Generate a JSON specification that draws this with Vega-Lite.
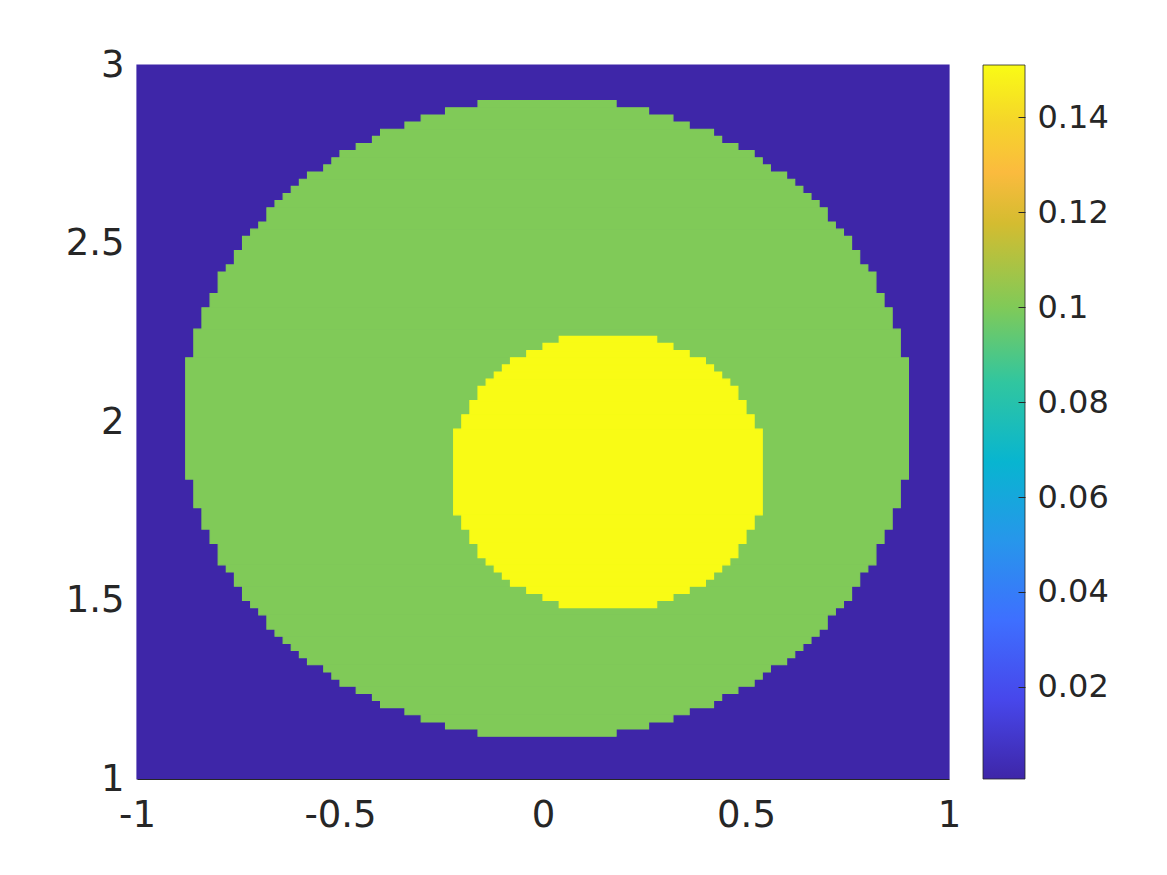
{
  "$schema": "https://vega.github.io/schema/vega-lite/v6.json",
  "autosize": {"type": "pad"},
  "padding": {"left": 65, "top": 46, "right": 5, "bottom": 5},
  "background": "white",
  "config": {
    "view": {"stroke": null},
    "font": "DejaVu Sans",
    "axis": {"labelColor": "#262626", "labelFont": "DejaVu Sans", "grid": false, "title": null}
  },
  "datasets": {
    "cells": [
      {"x0": -1.0, "x1": 1.0, "y0": 1.0, "y1": 3.0, "v": 0.0006},
      {"x0": -0.16, "x1": 0.18, "y0": 2.88, "y1": 2.90, "v": 0.1},
      {"x0": -0.24, "x1": 0.26, "y0": 2.86, "y1": 2.88, "v": 0.1},
      {"x0": -0.30, "x1": 0.32, "y0": 2.84, "y1": 2.86, "v": 0.1},
      {"x0": -0.34, "x1": 0.36, "y0": 2.82, "y1": 2.84, "v": 0.1},
      {"x0": -0.40, "x1": 0.42, "y0": 2.80, "y1": 2.82, "v": 0.1},
      {"x0": -0.42, "x1": 0.44, "y0": 2.78, "y1": 2.80, "v": 0.1},
      {"x0": -0.46, "x1": 0.48, "y0": 2.76, "y1": 2.78, "v": 0.1},
      {"x0": -0.50, "x1": 0.52, "y0": 2.74, "y1": 2.76, "v": 0.1},
      {"x0": -0.52, "x1": 0.54, "y0": 2.72, "y1": 2.74, "v": 0.1},
      {"x0": -0.54, "x1": 0.56, "y0": 2.70, "y1": 2.72, "v": 0.1},
      {"x0": -0.58, "x1": 0.60, "y0": 2.68, "y1": 2.70, "v": 0.1},
      {"x0": -0.60, "x1": 0.62, "y0": 2.66, "y1": 2.68, "v": 0.1},
      {"x0": -0.62, "x1": 0.64, "y0": 2.64, "y1": 2.66, "v": 0.1},
      {"x0": -0.64, "x1": 0.66, "y0": 2.62, "y1": 2.64, "v": 0.1},
      {"x0": -0.66, "x1": 0.68, "y0": 2.60, "y1": 2.62, "v": 0.1},
      {"x0": -0.68, "x1": 0.70, "y0": 2.56, "y1": 2.60, "v": 0.1},
      {"x0": -0.70, "x1": 0.72, "y0": 2.54, "y1": 2.56, "v": 0.1},
      {"x0": -0.72, "x1": 0.74, "y0": 2.52, "y1": 2.54, "v": 0.1},
      {"x0": -0.74, "x1": 0.76, "y0": 2.48, "y1": 2.52, "v": 0.1},
      {"x0": -0.76, "x1": 0.78, "y0": 2.44, "y1": 2.48, "v": 0.1},
      {"x0": -0.78, "x1": 0.80, "y0": 2.42, "y1": 2.44, "v": 0.1},
      {"x0": -0.80, "x1": 0.82, "y0": 2.36, "y1": 2.42, "v": 0.1},
      {"x0": -0.82, "x1": 0.84, "y0": 2.32, "y1": 2.36, "v": 0.1},
      {"x0": -0.84, "x1": 0.86, "y0": 2.26, "y1": 2.32, "v": 0.1},
      {"x0": -0.86, "x1": 0.88, "y0": 2.18, "y1": 2.26, "v": 0.1},
      {"x0": -0.88, "x1": 0.90, "y0": 1.84, "y1": 2.18, "v": 0.1},
      {"x0": -0.86, "x1": 0.88, "y0": 1.76, "y1": 1.84, "v": 0.1},
      {"x0": -0.84, "x1": 0.86, "y0": 1.70, "y1": 1.76, "v": 0.1},
      {"x0": -0.82, "x1": 0.84, "y0": 1.66, "y1": 1.70, "v": 0.1},
      {"x0": -0.80, "x1": 0.82, "y0": 1.60, "y1": 1.66, "v": 0.1},
      {"x0": -0.78, "x1": 0.80, "y0": 1.58, "y1": 1.60, "v": 0.1},
      {"x0": -0.76, "x1": 0.78, "y0": 1.54, "y1": 1.58, "v": 0.1},
      {"x0": -0.74, "x1": 0.76, "y0": 1.50, "y1": 1.54, "v": 0.1},
      {"x0": -0.72, "x1": 0.74, "y0": 1.48, "y1": 1.50, "v": 0.1},
      {"x0": -0.70, "x1": 0.72, "y0": 1.46, "y1": 1.48, "v": 0.1},
      {"x0": -0.68, "x1": 0.70, "y0": 1.42, "y1": 1.46, "v": 0.1},
      {"x0": -0.66, "x1": 0.68, "y0": 1.40, "y1": 1.42, "v": 0.1},
      {"x0": -0.64, "x1": 0.66, "y0": 1.38, "y1": 1.40, "v": 0.1},
      {"x0": -0.62, "x1": 0.64, "y0": 1.36, "y1": 1.38, "v": 0.1},
      {"x0": -0.60, "x1": 0.62, "y0": 1.34, "y1": 1.36, "v": 0.1},
      {"x0": -0.58, "x1": 0.60, "y0": 1.32, "y1": 1.34, "v": 0.1},
      {"x0": -0.54, "x1": 0.56, "y0": 1.30, "y1": 1.32, "v": 0.1},
      {"x0": -0.52, "x1": 0.54, "y0": 1.28, "y1": 1.30, "v": 0.1},
      {"x0": -0.50, "x1": 0.52, "y0": 1.26, "y1": 1.28, "v": 0.1},
      {"x0": -0.46, "x1": 0.48, "y0": 1.24, "y1": 1.26, "v": 0.1},
      {"x0": -0.42, "x1": 0.44, "y0": 1.22, "y1": 1.24, "v": 0.1},
      {"x0": -0.40, "x1": 0.42, "y0": 1.20, "y1": 1.22, "v": 0.1},
      {"x0": -0.34, "x1": 0.36, "y0": 1.18, "y1": 1.20, "v": 0.1},
      {"x0": -0.30, "x1": 0.32, "y0": 1.16, "y1": 1.18, "v": 0.1},
      {"x0": -0.24, "x1": 0.26, "y0": 1.14, "y1": 1.16, "v": 0.1},
      {"x0": -0.16, "x1": 0.18, "y0": 1.12, "y1": 1.14, "v": 0.1},
      {"x0": 0.04, "x1": 0.28, "y0": 2.22, "y1": 2.24, "v": 0.151},
      {"x0": 0.00, "x1": 0.32, "y0": 2.20, "y1": 2.22, "v": 0.151},
      {"x0": -0.04, "x1": 0.36, "y0": 2.18, "y1": 2.20, "v": 0.151},
      {"x0": -0.08, "x1": 0.40, "y0": 2.16, "y1": 2.18, "v": 0.151},
      {"x0": -0.10, "x1": 0.42, "y0": 2.14, "y1": 2.16, "v": 0.151},
      {"x0": -0.12, "x1": 0.44, "y0": 2.12, "y1": 2.14, "v": 0.151},
      {"x0": -0.14, "x1": 0.46, "y0": 2.10, "y1": 2.12, "v": 0.151},
      {"x0": -0.16, "x1": 0.48, "y0": 2.06, "y1": 2.10, "v": 0.151},
      {"x0": -0.18, "x1": 0.50, "y0": 2.02, "y1": 2.06, "v": 0.151},
      {"x0": -0.20, "x1": 0.52, "y0": 1.98, "y1": 2.02, "v": 0.151},
      {"x0": -0.22, "x1": 0.54, "y0": 1.74, "y1": 1.98, "v": 0.151},
      {"x0": -0.20, "x1": 0.52, "y0": 1.70, "y1": 1.74, "v": 0.151},
      {"x0": -0.18, "x1": 0.50, "y0": 1.66, "y1": 1.70, "v": 0.151},
      {"x0": -0.16, "x1": 0.48, "y0": 1.62, "y1": 1.66, "v": 0.151},
      {"x0": -0.14, "x1": 0.46, "y0": 1.60, "y1": 1.62, "v": 0.151},
      {"x0": -0.12, "x1": 0.44, "y0": 1.58, "y1": 1.60, "v": 0.151},
      {"x0": -0.10, "x1": 0.42, "y0": 1.56, "y1": 1.58, "v": 0.151},
      {"x0": -0.08, "x1": 0.40, "y0": 1.54, "y1": 1.56, "v": 0.151},
      {"x0": -0.04, "x1": 0.36, "y0": 1.52, "y1": 1.54, "v": 0.151},
      {"x0": 0.00, "x1": 0.32, "y0": 1.50, "y1": 1.52, "v": 0.151},
      {"x0": 0.04, "x1": 0.28, "y0": 1.48, "y1": 1.50, "v": 0.151}
    ],
    "bar": [{"lo": 0.0006, "hi": 0.151}]
  },
  "hconcat": [
    {
      "width": 812,
      "height": 714,
      "data": {"name": "cells"},
      "mark": {"type": "rect", "strokeWidth": 1.2},
      "encoding": {
        "x": {"field": "x0", "type": "quantitative",
              "scale": {"domain": [-1, 1], "nice": false, "zero": false},
              "axis": {"values": [-1, -0.5, 0, 0.5, 1], "labelExpr": "'' + datum.value", "ticks": false, "domain": true, "domainColor": "#262626", "domainWidth": 1, "labelFontSize": 37, "labelPadding": 18, "labelFlush": false, "labelOverlap": false, "labelBound": false, "zindex": 1}},
        "x2": {"field": "x1"},
        "y": {"field": "y0", "type": "quantitative",
              "scale": {"domain": [1, 3], "nice": false, "zero": false},
              "axis": {"values": [1, 1.5, 2, 2.5, 3], "labelExpr": "'' + datum.value", "ticks": false, "domain": false, "labelFontSize": 37, "labelPadding": 13, "labelFlush": false, "labelOverlap": false, "labelBound": false}},
        "y2": {"field": "y1"},
        "color": {"field": "v", "type": "quantitative", "legend": null,
                  "scale": {"type": "linear", "domain": [0.0006, 0.0173, 0.034, 0.0507, 0.0674, 0.0842, 0.1, 0.1176, 0.1284, 0.139, 0.151],
                            "range": ["#3E26A8", "#4747EB", "#3E6FFF", "#2796EB", "#08B5D0", "#31C69F", "#80CA58", "#D4BC30", "#FBBB3E", "#F5D52A", "#F9FB15"], "interpolate": "rgb", "clamp": true}},
        "stroke": {"field": "v", "type": "quantitative", "legend": null,
                  "scale": {"type": "linear", "domain": [0.0006, 0.0173, 0.034, 0.0507, 0.0674, 0.0842, 0.1, 0.1176, 0.1284, 0.139, 0.151],
                            "range": ["#3E26A8", "#4747EB", "#3E6FFF", "#2796EB", "#08B5D0", "#31C69F", "#80CA58", "#D4BC30", "#FBBB3E", "#F5D52A", "#F9FB15"], "interpolate": "rgb", "clamp": true}}
      }
    },
    {
      "width": 42,
      "height": 714,
      "data": {"name": "bar"},
      "mark": {"type": "rect", "stroke": "#262626", "strokeWidth": 0.8,
               "fill": {"gradient": "linear", "x1": 0, "y1": 1, "x2": 0, "y2": 0,
                        "stops": [
                          {"offset": 0.0, "color": "#3E26A8"},
                          {"offset": 0.111, "color": "#4747EB"},
                          {"offset": 0.222, "color": "#3E6FFF"},
                          {"offset": 0.333, "color": "#2796EB"},
                          {"offset": 0.444, "color": "#08B5D0"},
                          {"offset": 0.556, "color": "#31C69F"},
                          {"offset": 0.661, "color": "#80CA58"},
                          {"offset": 0.778, "color": "#D4BC30"},
                          {"offset": 0.85, "color": "#FBBB3E"},
                          {"offset": 0.92, "color": "#F5D52A"},
                          {"offset": 1.0, "color": "#F9FB15"}
                        ]}},
      "encoding": {
        "y": {"field": "lo", "type": "quantitative",
              "scale": {"domain": [0.0006, 0.151], "nice": false, "zero": false},
              "axis": {"orient": "right", "values": [0.02, 0.04, 0.06, 0.08, 0.1, 0.12, 0.14], "labelExpr": "'' + datum.value", "offset": -7, "tickSize": 7, "tickColor": "#262626", "tickWidth": 1, "domain": false, "labelPadding": 12, "labelFontSize": 32, "labelFlush": false, "labelOverlap": false, "labelBound": false, "zindex": 1}},
        "y2": {"field": "hi"}
      }
    }
  ],
  "spacing": 34,
  "bounds": "flush"
}
